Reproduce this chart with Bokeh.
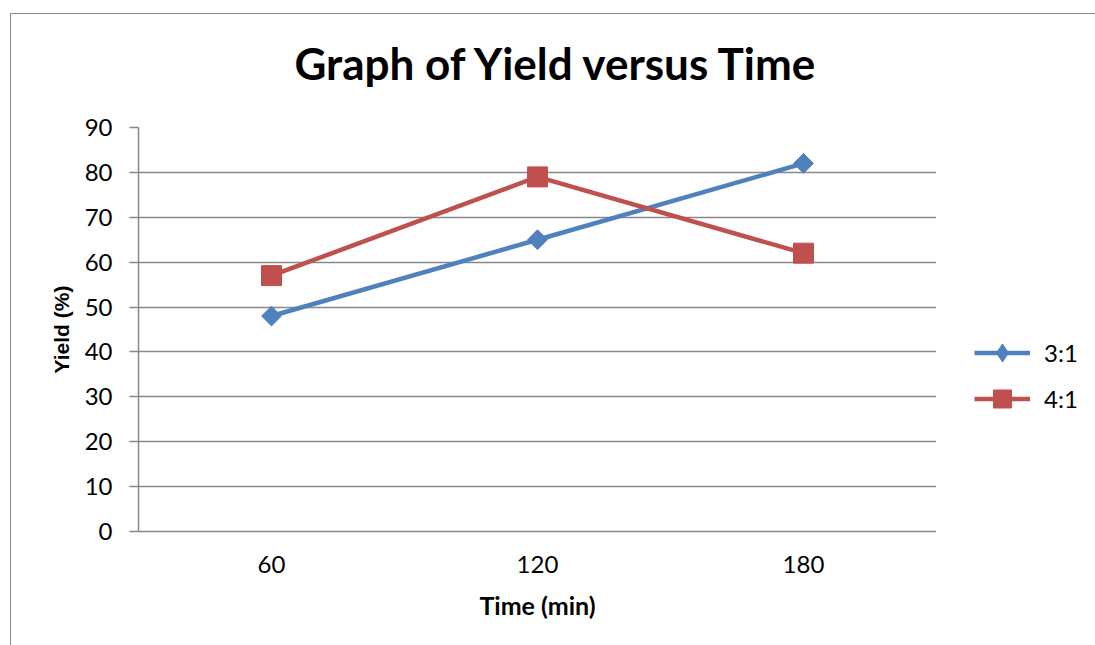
from bokeh.plotting import figure
from bokeh.layouts import row, column
from bokeh.models import FactorRange, Range1d, Legend, LegendItem, FixedTicker
from bokeh.embed import file_html
from bokeh.resources import INLINE

# Data
times = ["60", "120", "180"]
yield_3_1 = [48, 65, 82]
yield_4_1 = [57, 79, 62]
y_ticks = [0, 10, 20, 30, 40, 50, 60, 70, 80, 90]
series_names = ["3:1", "4:1"]
chart_title = "Graph of Yield versus Time"

BLUE = "#4F81BD"
RED = "#C0504D"
GRID = "#888888"

# ---- Title strip -------------------------------------------------------
t = figure(
    width=1085, height=98, title=chart_title,
    output_backend="svg", toolbar_location=None,
    min_border=0, min_border_left=127, min_border_right=0,
    min_border_top=0, min_border_bottom=0,
)
t.axis.visible = False
t.grid.visible = False
t.outline_line_color = None
t.border_fill_color = "white"
t.background_fill_color = "white"
t.title.text_font = "Lato"
t.title.text_font_style = "bold"
t.title.text_font_size = "44px"
t.title.align = "left"
t.title.offset = 156
t.title.standoff = 40
t.title.text_color = "black"

# ---- Main plot ---------------------------------------------------------
p = figure(
    width=925, height=534, title=None,
    x_range=FactorRange(*times, range_padding=0),
    y_range=Range1d(0, 90),
    output_backend="svg", toolbar_location=None,
    min_border_left=127, min_border_right=0,
    min_border_top=15, min_border_bottom=115,
)
p.outline_line_color = None
p.background_fill_color = "white"
p.border_fill_color = "white"

p.yaxis.ticker = FixedTicker(ticks=y_ticks)
p.yaxis.major_tick_out = 9
p.yaxis.major_tick_in = 0
p.yaxis.minor_tick_line_color = None
p.yaxis.axis_line_color = GRID
p.yaxis.axis_line_width = 1.5
p.yaxis.major_tick_line_color = GRID
p.yaxis.major_tick_line_width = 1.5
p.yaxis.major_label_text_font = "Lato"
p.yaxis.major_label_text_font_size = "24px"
p.yaxis.major_label_text_color = "black"
p.yaxis.major_label_standoff = 17
p.yaxis.axis_label = "Yield (%)"
p.yaxis.axis_label_text_font = "Liberation Sans"
p.yaxis.axis_label_text_font_style = "bold"
p.yaxis.axis_label_text_font_size = "21px"
p.yaxis.axis_label_text_color = "black"
p.yaxis.axis_label_standoff = 9

p.xaxis.major_tick_line_color = None
p.xaxis.minor_tick_line_color = None
p.xaxis.axis_line_color = GRID
p.xaxis.axis_line_width = 1.5
p.xaxis.major_label_text_font = "Lato"
p.xaxis.major_label_text_font_size = "24px"
p.xaxis.major_label_text_color = "black"
p.xaxis.major_label_standoff = 18
p.xaxis.axis_label = "Time (min)"
p.xaxis.axis_label_text_font = "Lato"
p.xaxis.axis_label_text_font_style = "bold"
p.xaxis.axis_label_text_font_size = "25px"
p.xaxis.axis_label_text_color = "black"
p.xaxis.axis_label_standoff = 14

p.xgrid.grid_line_color = None
p.ygrid.grid_line_color = GRID
p.ygrid.grid_line_width = 1.5
p.ygrid.ticker = FixedTicker(ticks=y_ticks)

p.line(times, yield_3_1, line_color=BLUE, line_width=4.5, line_join="round")
p.scatter(times, yield_3_1, marker="square", angle=0.785398, size=14,
          fill_color=BLUE, line_color=BLUE)
p.line(times, yield_4_1, line_color=RED, line_width=4.5, line_join="round")
p.scatter(times, yield_4_1, marker="square", size=20,
          fill_color=RED, line_color=RED)

# ---- Legend strip (series renderers sit out of view) -------------------
q = figure(
    width=160, height=534, title=None,
    x_range=FactorRange(*times), y_range=Range1d(1000, 1100),
    output_backend="svg", toolbar_location=None,
    min_border=0, min_border_left=0, min_border_right=0,
    min_border_top=0, min_border_bottom=0,
)
q.axis.visible = False
q.grid.visible = False
q.outline_line_color = None
q.background_fill_color = "white"
q.border_fill_color = "white"

lg_l1 = q.line(times, yield_3_1, line_color=BLUE, line_width=4.5)
lg_m1 = q.scatter(times, yield_3_1, marker="diamond", fill_color=BLUE, line_color=BLUE)
lg_l2 = q.line(times, yield_4_1, line_color=RED, line_width=4.5)
lg_m2 = q.scatter(times, yield_4_1, marker="square", fill_color=RED, line_color=RED)

legend = Legend(
    items=[LegendItem(label=series_names[0], renderers=[lg_l1, lg_m1]),
           LegendItem(label=series_names[1], renderers=[lg_l2, lg_m2])],
    location=(38, 110),
    glyph_width=56, glyph_height=45, spacing=1,
    label_standoff=14, padding=0, margin=0,
    border_line_color=None, background_fill_alpha=0,
    label_text_font="Lato", label_text_font_size="24px", label_text_color="black",
)
q.add_layout(legend)

layout = column(t, row(p, q, spacing=0), spacing=0)
layout.margin = (13, 0, 0, 10)
layout.styles = {"border-left": "1.5px solid #888888", "border-top": "1.5px solid #888888"}

open("out.html", "w").write(file_html(layout, INLINE))
